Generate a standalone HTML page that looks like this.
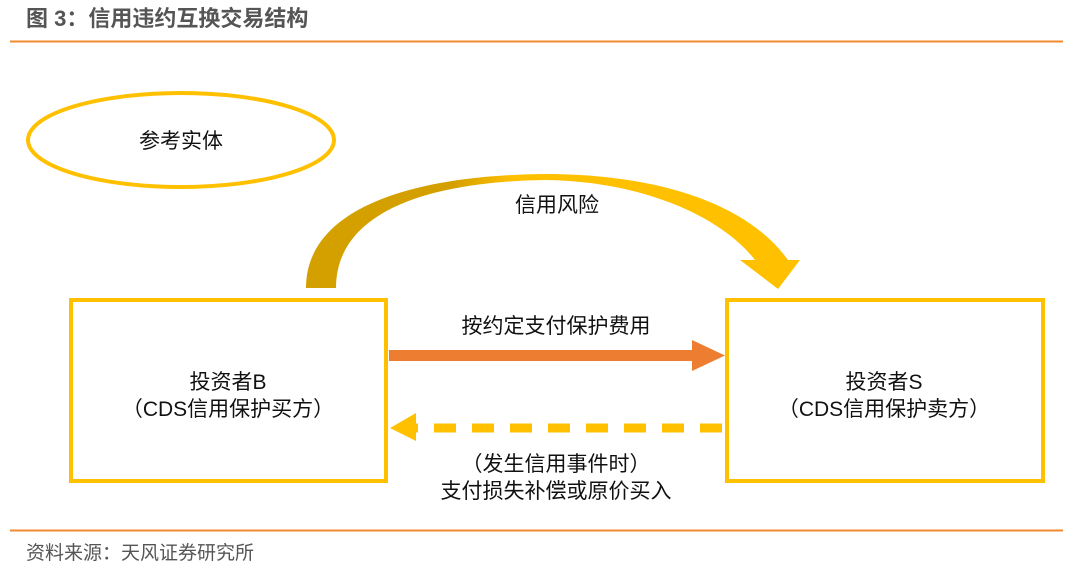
<!DOCTYPE html>
<html><head><meta charset="utf-8"><style>
body{margin:0;width:1080px;height:571px;background:#fff;overflow:hidden;font-family:"Liberation Sans","Noto Sans CJK SC",sans-serif;}
</style></head><body>
<svg width="1080" height="571" xmlns="http://www.w3.org/2000/svg" style="position:absolute;left:0;top:0">
<text x="26" y="26" font-size="22" font-weight="bold" fill="#555" font-family="Liberation Sans,Noto Sans CJK SC,sans-serif">图 3：信用违约互换交易结构</text>
<line x1="10" y1="41.5" x2="1063" y2="41.5" stroke="#F08A30" stroke-width="2"/>
<ellipse cx="181" cy="140" rx="153" ry="47" fill="none" stroke="#FFC000" stroke-width="4"/>
<g font-size="21" text-anchor="middle" fill="#111" font-family="Liberation Sans,Noto Sans CJK SC,sans-serif">
<text x="181" y="148">参考实体</text>
<text x="557" y="212">信用风险</text>
<text x="228" y="389">投资者B</text>
<text x="228" y="416">（CDS信用保护买方）</text>
<text x="884" y="389">投资者S</text>
<text x="884" y="416">（CDS信用保护卖方）</text>
<text x="556" y="333">按约定支付保护费用</text>
<text x="556" y="471">（发生信用事件时）</text>
<text x="556" y="498">支付损失补偿或原价买入</text>
</g>
<defs><linearGradient id="g" x1="0" x2="1" y1="0" y2="0"><stop offset="0.3" stop-color="#D4A000"/><stop offset="0.42" stop-color="#FFC000"/></linearGradient></defs>
<path d="M306,288 C306,205 420,175 545,174 C650,174 745,200 788,260 L800,260 L778,289 L740,260 L755,260 C720,215 640,181 545,180 C420,182 336,215 336,288 Z" fill="url(#g)"/>
<rect x="71" y="300" width="315" height="181" fill="none" stroke="#FFC000" stroke-width="4"/>
<rect x="727" y="300" width="316" height="181" fill="none" stroke="#FFC000" stroke-width="4"/>
<rect x="389" y="350" width="305" height="11" fill="#ED7D31"/>
<polygon points="692,340 725,355.5 692,371" fill="#ED7D31"/>
<line x1="722" y1="428" x2="416" y2="428" stroke="#FFC000" stroke-width="9" stroke-dasharray="22,16"/>
<polygon points="416,413 390,428 416,441" fill="#FFC000"/>
<line x1="10" y1="530.5" x2="1063" y2="530.5" stroke="#F08A30" stroke-width="2"/>
<text x="26" y="559" font-size="19" fill="#555" font-family="Liberation Sans,Noto Sans CJK SC,sans-serif">资料来源：天风证券研究所</text>
</svg>
</body></html>
